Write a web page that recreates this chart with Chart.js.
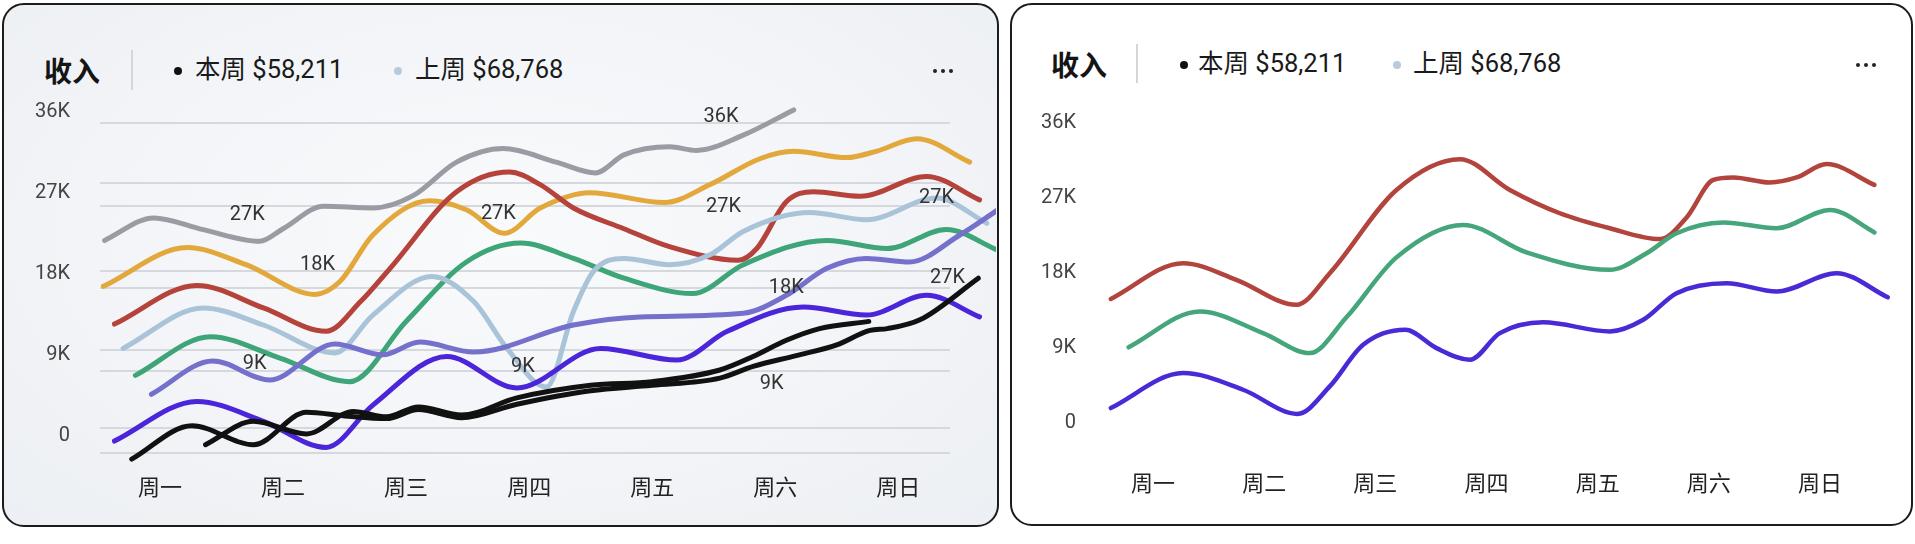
<!DOCTYPE html>
<html>
<head>
<meta charset="utf-8">
<script src="https://cdn.jsdelivr.net/npm/chart.js@4.4.0/dist/chart.umd.min.js"></script>
<style>
html, body { margin: 0; padding: 0; background: #fff; }
body { width: 1915px; height: 544px; position: relative; overflow: hidden; font-family: Roboto, "Noto Sans CJK SC", sans-serif; }
.panel { position: absolute; box-sizing: border-box; border: 2px solid #1c1c1c; border-radius: 22px; }
#leftPanel { left: 2px; top: 3px; width: 997px; height: 524px; background: radial-gradient(ellipse at 50% 45%, #f9fafc 0%, #f2f4f7 60%, #eceff3 100%); }
#rightPanel { left: 1010px; top: 3px; width: 903px; height: 523px; background: #fff; }
.abs { position: absolute; white-space: nowrap; transform: translateY(-50%); line-height: 1; }
.title { font-size: 28px; font-weight: 700; color: #151515; font-family: "Noto Sans CJK SC", sans-serif; }
.sep { position: absolute; width: 2px; background: #d3d6da; }
.dot { position: absolute; width: 8px; height: 8px; border-radius: 50%; transform: translate(-50%, -50%); }
.legtext { font-size: 25.5px; color: #1a1a1a; }
.more { position: absolute; transform: translate(-50%, -50%); display: flex; gap: 4px; }
.more span { width: 4px; height: 4px; border-radius: 50%; background: #222; }
.chartbox { position: absolute; }
</style>
</head>
<body>
<div class="panel" id="leftPanel"></div>
<div class="panel" id="rightPanel"></div>

<!-- 左图标题栏 -->
<div class="abs title" style="left:44px;top:70px;">收入</div>
<div class="sep" style="left:131px;top:50px;height:40px;"></div>
<div class="dot" style="left:178px;top:71px;background:#111;"></div>
<div class="abs legtext" style="left:195px;top:70px;">本周 $58,211</div>
<div class="dot" style="left:398px;top:71px;background:#b8cadc;"></div>
<div class="abs legtext" style="left:415px;top:70px;">上周 $68,768</div>
<div class="more" style="left:943px;top:71px;"><span></span><span></span><span></span></div>

<!-- 右图标题栏 -->
<div class="abs title" style="left:1051px;top:64px;">收入</div>
<div class="sep" style="left:1136px;top:44px;height:39px;"></div>
<div class="dot" style="left:1184px;top:65px;background:#111;"></div>
<div class="abs legtext" style="left:1198px;top:64px;">本周 $58,211</div>
<div class="dot" style="left:1397px;top:65px;background:#b8cadc;"></div>
<div class="abs legtext" style="left:1413px;top:64px;">上周 $68,768</div>
<div class="more" style="left:1866px;top:65px;"><span></span><span></span><span></span></div>

<div class="chartbox" style="left:4px;top:90px;width:992px;height:430px;"><canvas id="leftChart"></canvas></div>
<div class="chartbox" style="left:1012px;top:90px;width:899px;height:430px;"><canvas id="rightChart"></canvas></div>

<script>
var days = ['周一', '周二', '周三', '周四', '周五', '周六', '周日'];
var axisTicks = [0, 9, 18, 27, 36];

// left chart, x = day position, y = thousands
var grayX = [-0.45, -0.05, 0.35, 0.81, 1.0, 1.33, 1.73, 2.06, 2.41, 2.79, 3.22, 3.54, 3.77, 4.14, 4.36, 4.74, 5.15];
var grayY = [21.7, 24.2, 22.9, 21.6, 23.0, 25.5, 25.3, 26.7, 30.4, 31.9, 30.4, 29.2, 31.2, 32.1, 31.7, 33.4, 36.2];

var goldX = [-0.46, 0.22, 0.70, 1.26, 1.46, 1.73, 2.19, 2.49, 2.80, 3.09, 3.49, 4.1, 4.47, 4.88, 5.15, 5.58, 5.82, 6.15, 6.58];
var goldY = [16.6, 20.9, 19.0, 15.7, 17.1, 22.3, 26.1, 25.1, 22.5, 25.3, 27.0, 25.9, 27.9, 30.8, 31.6, 30.9, 31.6, 33.0, 30.4];

var redX = [-0.37, 0.30, 0.84, 1.35, 1.63, 1.87, 2.41, 2.84, 3.09, 3.36, 3.77, 4.14, 4.70, 4.85, 5.09, 5.31, 5.69, 6.23, 6.66];
var redY = [12.4, 16.7, 14.2, 11.6, 14.9, 18.6, 27.1, 29.3, 27.9, 25.3, 23.0, 21.0, 19.5, 20.8, 26.0, 27.1, 26.6, 28.8, 26.2];

var paleX = [-0.30, 0.35, 0.84, 1.42, 1.73, 2.21, 2.55, 2.82, 3.14, 3.36, 3.52, 3.77, 4.14, 4.47, 4.74, 5.28, 5.74, 6.31, 6.72];
var paleY = [9.7, 14.2, 12.3, 9.2, 13.4, 17.7, 14.9, 9.7, 5.4, 13.8, 18.2, 19.7, 19.0, 20.1, 22.7, 24.8, 24.0, 26.4, 23.6];

var greenX = [-0.20, 0.41, 0.98, 1.54, 2.0, 2.49, 2.93, 3.36, 3.77, 4.33, 4.74, 5.42, 5.91, 6.39, 6.81];
var greenY = [6.7, 11.0, 8.6, 6.0, 12.7, 19.3, 21.4, 19.7, 17.5, 15.8, 19.0, 21.7, 20.8, 22.9, 20.6];

var slateX = [-0.07, 0.43, 0.89, 1.42, 1.81, 2.11, 2.55, 3.36, 3.9, 4.74, 5.09, 5.42, 5.74, 6.09, 6.50, 6.81];
var slateY = [4.6, 8.3, 6.2, 10.2, 9.0, 10.4, 9.3, 12.3, 13.2, 13.6, 15.6, 18.6, 19.7, 19.3, 22.3, 25.1];

var violetX = [-0.37, 0.30, 0.84, 1.35, 1.73, 2.33, 2.90, 3.58, 4.2, 4.61, 5.23, 5.74, 6.23, 6.66];
var violetY = [-0.6, 3.8, 1.6, -1.3, 3.4, 8.8, 5.3, 9.7, 8.4, 11.6, 14.3, 13.4, 15.6, 13.2];

var blackAX = [-0.23, 0.26, 0.76, 1.19, 1.5, 1.84, 2.1, 2.45, 2.9, 3.5, 4.0, 4.55, 4.82, 5.17, 5.5, 5.77, 5.91, 6.18, 6.65];
var blackAY = [-2.6, 1.1, -1.0, 2.6, 2.2, 1.9, 2.9, 2.0, 3.5, 5.0, 5.6, 6.4, 7.7, 8.9, 10.1, 11.7, 11.9, 12.9, 17.5];

var blackBX = [0.37, 0.76, 1.19, 1.57, 1.84, 2.1, 2.45, 2.9, 3.5, 4.0, 4.55, 4.82, 5.09, 5.36, 5.76];
var blackBY = [-1.0, 1.6, 0.2, 2.7, 2.1, 3.2, 2.3, 4.2, 5.6, 6.0, 7.3, 8.8, 10.6, 11.9, 12.7];

// gridlines of the left chart sit at odd values
var leftGridValues = [34.7, 28.04, 25.52, 18.3, 16.38, 9.52, 7.19, 0.82, -1.96];

// loose value labels on the left chart
var noteText = ['27K', '18K', '9K', '27K', '9K', '36K', '27K', '18K', '9K', '27K', '27K'];
var noteX = [0.71, 1.28, 0.77, 2.75, 2.95, 4.56, 4.58, 5.09, 4.97, 6.31, 6.40];
var noteY = [24.5, 19.0, 8.0, 24.6, 7.6, 35.4, 25.4, 16.4, 5.7, 26.4, 17.5];

// right chart
var rRedX = [-0.38, 0.27, 0.75, 1.29, 1.59, 2.19, 2.76, 3.21, 3.66, 4.11, 4.56, 4.80, 5.04, 5.22, 5.55, 5.79, 6.06, 6.49];
var rRedY = [14.9, 19.2, 17.2, 14.2, 18.0, 28.0, 31.7, 28.0, 25.2, 23.4, 22.1, 24.7, 29.2, 29.5, 28.9, 29.5, 31.1, 28.6];

var rGreenX = [-0.22, 0.42, 0.99, 1.41, 1.74, 2.19, 2.79, 3.36, 4.11, 4.44, 4.71, 5.13, 5.61, 6.09, 6.49];
var rGreenY = [9.1, 13.4, 10.8, 8.4, 12.7, 19.9, 23.8, 20.5, 18.4, 20.4, 22.8, 24.1, 23.4, 25.6, 22.9];

var rBlueX = [-0.38, 0.27, 0.81, 1.30, 1.59, 1.89, 2.27, 2.55, 2.85, 3.12, 3.51, 4.11, 4.41, 4.71, 5.16, 5.61, 6.15, 6.61];
var rBlueY = [1.8, 6.0, 4.0, 1.1, 4.4, 9.4, 11.2, 9.0, 7.6, 10.8, 12.1, 11.0, 12.4, 15.6, 16.8, 15.8, 18.0, 15.1];

Chart.defaults.font.family = 'Roboto, "Noto Sans CJK SC", sans-serif';

function line(xs, ys, color, width) {
  return {
    data: xs.map(function(x, i) { return {x: x, y: ys[i]}; }),
    borderColor: color,
    borderWidth: width,
    pointRadius: 0,
    cubicInterpolationMode: 'monotone',
    borderCapStyle: 'round',
    borderJoinStyle: 'round',
    fill: false,
    clip: false
  };
}

function kLabel(v) {
  return v === 0 ? '0' : v + 'K';
}

// draws the loose "27K" style texts at data positions
var notesPlugin = {
  id: 'notes',
  afterDatasetsDraw: function(chart, args, opts) {
    if (!opts.text) return;
    var ctx = chart.ctx;
    var xs = chart.scales.x, ys = chart.scales.y;
    ctx.save();
    ctx.font = '20px Roboto, "Noto Sans CJK SC", sans-serif';
    ctx.fillStyle = '#333';
    ctx.textAlign = 'center';
    ctx.textBaseline = 'middle';
    opts.text.forEach(function(t, i) {
      ctx.fillText(t, xs.getPixelForValue(opts.x[i]), ys.getPixelForValue(opts.y[i]));
    });
    ctx.restore();
  }
};

new Chart(document.getElementById('leftChart'), {
  type: 'line',
  data: {
    datasets: [
      line(blackAX, blackAY, '#111111', 5),
      line(blackBX, blackBY, '#111111', 5),
      line(violetX, violetY, '#4b25d9', 5),
      line(slateX, slateY, '#7470cc', 5),
      line(paleX, paleY, '#a9c3d8', 5),
      line(greenX, greenY, '#3da577', 5),
      line(redX, redY, '#b5433c', 5),
      line(goldX, goldY, '#e3a83b', 5),
      line(grayX, grayY, '#9a9ca3', 5)
    ]
  },
  plugins: [notesPlugin],
  options: {
    responsive: true,
    maintainAspectRatio: false,
    animation: false,
    layout: {padding: {top: 12.7, right: 46, bottom: 0, left: 0}},
    plugins: {
      legend: {display: false},
      tooltip: {enabled: false},
      notes: {text: noteText, x: noteX, y: noteY}
    },
    scales: {
      x: {
        type: 'linear',
        bounds: 'data',
        afterDataLimits: function(s) { s.min = -0.4876; s.max = 6.42; },
        afterBuildTicks: function(s) { s.ticks = days.map(function(d, i) { return {value: i}; }); },
        afterFit: function(s) { s.height = 57.3; },
        grid: {display: false, drawTicks: false},
        border: {display: false},
        ticks: {
          autoSkip: false, maxRotation: 0, padding: 14, color: '#222',
          font: {size: 22},
          callback: function(v) { return days[v]; }
        }
      },
      y: {
        type: 'linear',
        bounds: 'data',
        afterDataLimits: function(s) { s.min = -3; s.max = 37; },
        afterBuildTicks: function(s) {
          s.ticks = axisTicks.map(function(v) { return {value: v}; })
            .concat(leftGridValues.map(function(v) { return {value: v, gridOnly: true}; }));
        },
        afterFit: function(s) { s.width = 96; },
        grid: {
          drawTicks: true,
          tickLength: 30,
          tickColor: 'transparent',
          lineWidth: 2,
          color: function(c) { return (c.tick && c.tick.gridOnly) ? '#d5d8dc' : 'transparent'; }
        },
        border: {display: false},
        ticks: {
          autoSkip: false, padding: 0, color: '#444',
          font: {size: 20},
          callback: function(v, i, t) { return t[i].gridOnly ? '' : kLabel(v); }
        }
      }
    }
  }
});

new Chart(document.getElementById('rightChart'), {
  type: 'line',
  data: {
    datasets: [
      line(rBlueX, rBlueY, '#4a2ad6', 4.5),
      line(rGreenX, rGreenY, '#45a67b', 4.5),
      line(rRedX, rRedY, '#b3443d', 4.5)
    ]
  },
  options: {
    responsive: true,
    maintainAspectRatio: false,
    animation: false,
    layout: {padding: {top: 25, right: 13.2, bottom: 0, left: 0}},
    plugins: {
      legend: {display: false},
      tooltip: {enabled: false}
    },
    scales: {
      x: {
        type: 'linear',
        bounds: 'data',
        afterDataLimits: function(s) { s.min = -0.45; s.max = 6.7; },
        afterBuildTicks: function(s) { s.ticks = days.map(function(d, i) { return {value: i}; }); },
        afterFit: function(s) { s.height = 80.3; },
        grid: {display: false, drawTicks: false},
        border: {display: false},
        ticks: {
          autoSkip: false, maxRotation: 0, padding: 33, color: '#222',
          font: {size: 22},
          callback: function(v) { return days[v]; }
        }
      },
      y: {
        type: 'linear',
        bounds: 'data',
        afterDataLimits: function(s) { s.min = -2; s.max = 37; },
        afterBuildTicks: function(s) { s.ticks = axisTicks.map(function(v) { return {value: v}; }); },
        afterFit: function(s) { s.width = 91; },
        grid: {drawTicks: true, tickLength: 27, tickColor: 'transparent', color: 'transparent'},
        border: {display: false},
        ticks: {
          autoSkip: false, padding: 0, color: '#444',
          font: {size: 20},
          callback: function(v) { return kLabel(v); }
        }
      }
    }
  }
});
</script>
</body>
</html>
